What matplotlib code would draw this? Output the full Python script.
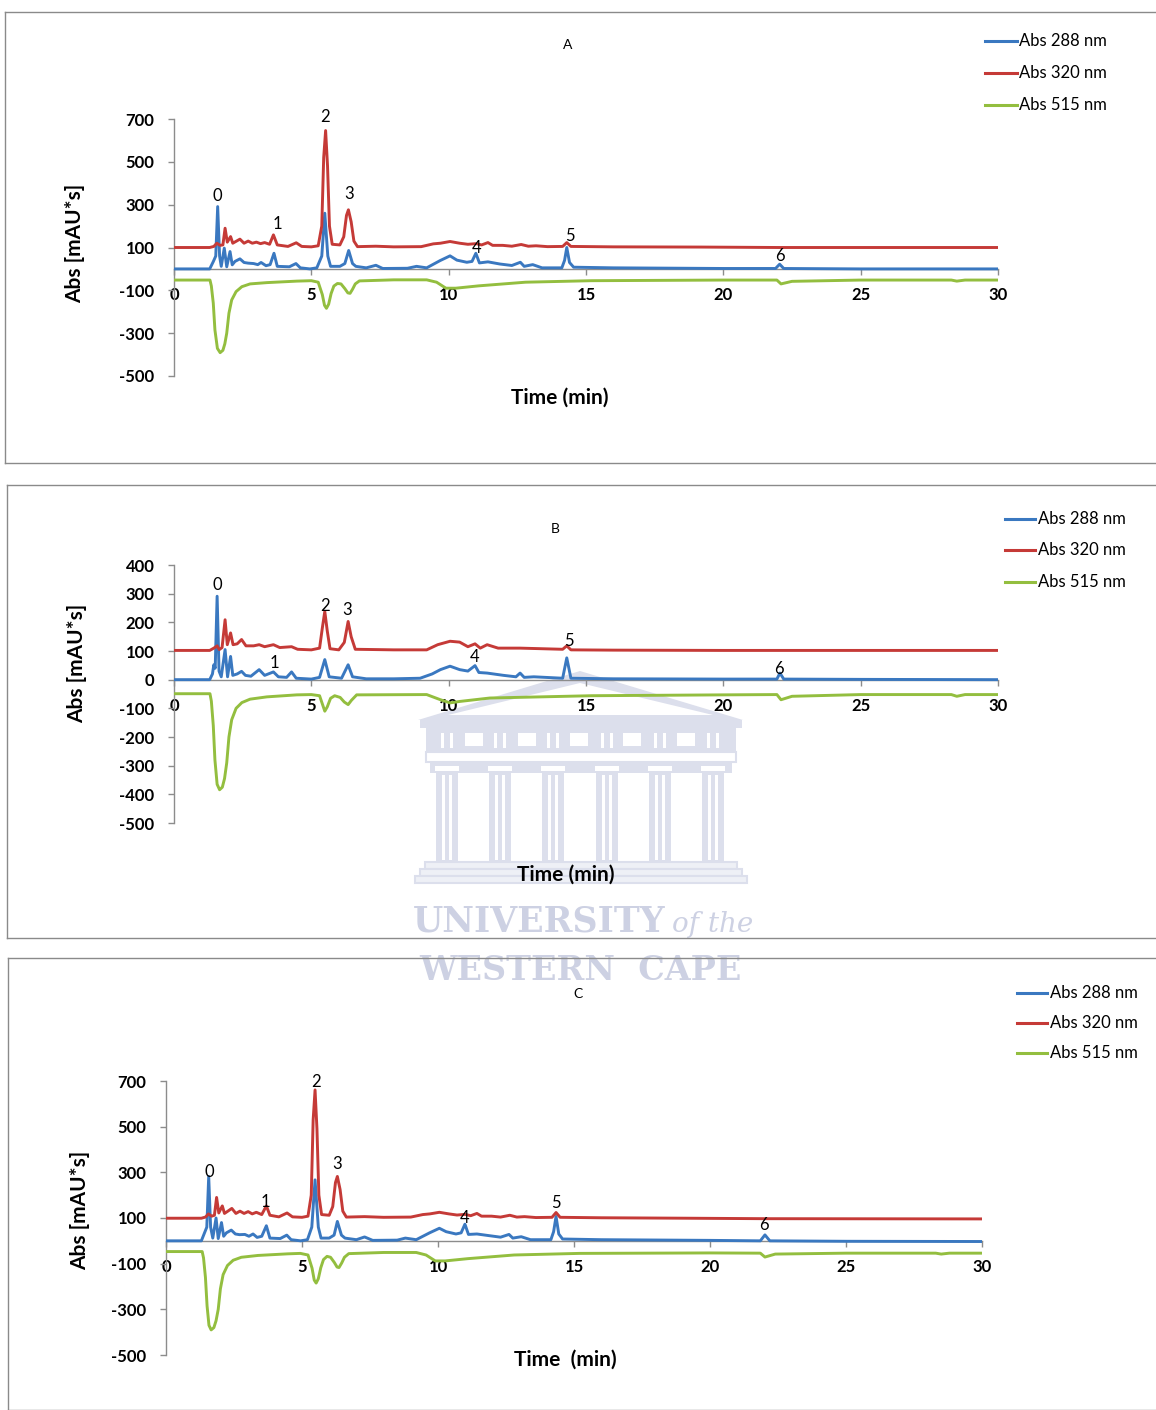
import matplotlib
matplotlib.use("Agg")
import matplotlib.pyplot as plt
from matplotlib.lines import Line2D
from matplotlib.patches import Rectangle, Polygon

plt.rcParams['font.family'] = ['Lato', 'DejaVu Sans']

W, H = 1156, 1410

# ---------------- DATA ----------------
series_labels = ["Abs 288 nm", "Abs 320 nm", "Abs 515 nm"]
peak_names = ["0", "1", "2", "3", "4", "5", "6"]
x_ticks = [0, 5, 10, 15, 20, 25, 30]

# Panel A
A_t_288 = [0, 1.30, 1.43, 1.52, 1.59, 1.66, 1.72, 1.83, 1.92, 2.04, 2.12, 2.22, 2.40, 2.55, 2.70, 2.90, 3.05, 3.17, 3.35, 3.50, 3.64, 3.76, 4.20, 4.44, 4.60, 4.95, 5.20, 5.38, 5.49, 5.60, 5.70, 6.04, 6.22, 6.36, 6.50, 6.62, 7.00, 7.35, 7.60, 8.50, 8.83, 9.20, 9.69, 10.05, 10.30, 10.66, 10.85, 10.99, 11.12, 11.43, 11.86, 12.30, 12.61, 12.75, 13.06, 13.40, 14.12, 14.22, 14.30, 14.40, 14.55, 16.0, 20.0, 21.9, 22.05, 22.2, 25, 30]
A_y_288 = [0, 0, 34, 60, 291, 60, 12, 97, 10, 81, 19, 35, 47, 30, 27, 25, 20, 30, 15, 20, 73, 12, 10, 25, 5, 0, 5, 60, 260, 60, 12, 12, 25, 86, 25, 12, 5, 17, 2, 3, 12, 5, 39, 61, 41, 31, 35, 73, 28, 33, 23, 16, 31, 12, 20, 5, 5, 40, 100, 30, 8, 5, 2, 2, 22, 2, 0, 0]
A_t_320 = [0, 1.30, 1.45, 1.56, 1.68, 1.78, 1.86, 1.94, 2.06, 2.14, 2.25, 2.40, 2.55, 2.70, 2.85, 3.00, 3.15, 3.30, 3.48, 3.62, 3.76, 4.15, 4.45, 4.65, 5.00, 5.25, 5.38, 5.45, 5.52, 5.59, 5.66, 5.76, 6.04, 6.18, 6.28, 6.35, 6.45, 6.55, 6.68, 7.35, 8.0, 9.0, 9.44, 9.7, 10.05, 10.4, 10.7, 11.0, 11.2, 11.43, 11.6, 11.97, 12.3, 12.64, 12.9, 13.18, 13.6, 14.15, 14.30, 14.45, 16.0, 19.2, 22.0, 30]
A_y_320 = [100, 100, 105, 120, 110, 112, 190, 125, 151, 120, 128, 139, 120, 130, 120, 125, 118, 123, 115, 159, 112, 105, 122, 105, 103, 108, 200, 520, 646, 480, 200, 115, 112, 150, 250, 276, 220, 130, 104, 106, 103, 104, 117, 120, 128, 120, 115, 118, 112, 123, 110, 110, 106, 114, 106, 108, 104, 105, 123, 105, 103, 102, 100, 100]
A_t_515 = [0, 1.31, 1.36, 1.43, 1.49, 1.58, 1.68, 1.78, 1.85, 1.92, 2.00, 2.10, 2.26, 2.47, 2.77, 3.38, 4.47, 5.00, 5.25, 5.40, 5.48, 5.55, 5.63, 5.72, 5.82, 5.95, 6.08, 6.22, 6.33, 6.41, 6.50, 6.60, 6.75, 8.0, 9.2, 9.56, 9.9, 10.26, 11.1, 12.8, 15.2, 20, 21.95, 22.1, 22.5, 25, 28.3, 28.5, 28.8, 30]
A_y_515 = [-52, -52, -80, -160, -285, -371, -391, -380, -350, -300, -207, -145, -106, -83, -70, -64, -57, -55, -62, -120, -170, -184, -165, -115, -80, -68, -70, -92, -112, -114, -95, -70, -56, -51, -51, -62, -90, -90, -79, -62, -55, -52, -52, -70, -58, -52, -52, -57, -52, -52]

# Panel B
B_t_288 = [0, 1.30, 1.40, 1.45, 1.50, 1.57, 1.64, 1.72, 1.86, 1.95, 2.06, 2.14, 2.30, 2.46, 2.60, 2.80, 3.10, 3.30, 3.62, 3.80, 4.10, 4.28, 4.45, 5.0, 5.30, 5.49, 5.65, 6.10, 6.34, 6.50, 7.0, 8.0, 8.96, 9.4, 9.7, 10.05, 10.4, 10.7, 10.96, 11.1, 11.4, 12.0, 12.45, 12.6, 12.75, 13.1, 14.15, 14.30, 14.45, 16, 20, 21.95, 22.06, 22.2, 25, 30]
B_y_288 = [0, 0, 20, 52, 40, 291, 30, 10, 105, 10, 81, 15, 20, 29, 15, 12, 35, 15, 27, 10, 8, 27, 5, 2, 8, 70, 10, 5, 52, 10, 3, 3, 5, 20, 35, 47, 35, 30, 49, 25, 23, 15, 10, 23, 8, 10, 5, 76, 5, 3, 2, 2, 23, 2, 1, 0]
B_t_320 = [0, 1.30, 1.45, 1.57, 1.65, 1.75, 1.86, 1.94, 2.06, 2.15, 2.30, 2.46, 2.62, 2.90, 3.10, 3.30, 3.62, 3.85, 4.28, 4.50, 5.0, 5.30, 5.40, 5.49, 5.58, 5.68, 6.0, 6.20, 6.34, 6.45, 6.60, 8.0, 9.2, 9.6, 10.05, 10.4, 10.7, 10.96, 11.15, 11.4, 11.8, 12.6, 14.15, 14.30, 14.45, 16, 20, 30]
B_y_320 = [102, 102, 110, 118, 105, 112, 209, 122, 163, 122, 125, 140, 118, 118, 122, 115, 122, 112, 115, 106, 104, 110, 180, 238, 170, 108, 104, 130, 203, 150, 106, 104, 104, 122, 134, 131, 115, 125, 110, 122, 110, 110, 106, 118, 104, 103, 102, 102]
B_t_515 = [0, 1.31, 1.36, 1.43, 1.49, 1.57, 1.66, 1.76, 1.84, 1.92, 2.00, 2.10, 2.26, 2.47, 2.77, 3.38, 4.47, 5.00, 5.30, 5.42, 5.49, 5.58, 5.70, 5.85, 6.05, 6.20, 6.34, 6.46, 6.65, 9.2, 9.7, 10.05, 10.4, 11.5, 15.2, 20, 21.95, 22.1, 22.5, 25, 28.3, 28.5, 28.8, 30]
B_y_515 = [-49, -49, -75, -160, -280, -365, -384, -375, -345, -290, -200, -140, -100, -80, -68, -60, -53, -52, -56, -90, -110, -95, -65, -56, -62, -78, -87, -72, -53, -52, -70, -81, -76, -64, -56, -53, -52, -70, -58, -52, -52, -58, -52, -52]

# Panel C
C_t_288 = [0, 1.30, 1.40, 1.50, 1.57, 1.64, 1.72, 1.84, 1.92, 2.04, 2.12, 2.22, 2.40, 2.55, 2.70, 2.90, 3.05, 3.20, 3.35, 3.52, 3.69, 3.82, 4.20, 4.44, 4.60, 4.95, 5.20, 5.36, 5.48, 5.60, 5.70, 6.0, 6.18, 6.30, 6.45, 6.58, 7.00, 7.30, 7.60, 8.50, 8.80, 9.20, 9.69, 10.05, 10.30, 10.66, 10.85, 10.99, 11.12, 11.43, 11.86, 12.30, 12.61, 12.75, 13.06, 13.40, 14.15, 14.25, 14.34, 14.44, 14.58, 16.0, 20.0, 21.85, 22.02, 22.2, 25, 30]
C_y_288 = [0, 0, 30, 60, 282, 60, 12, 100, 10, 80, 20, 35, 47, 30, 27, 28, 20, 30, 15, 20, 66, 12, 10, 25, 5, 0, 5, 60, 267, 60, 12, 12, 25, 85, 25, 12, 5, 17, 2, 3, 12, 5, 35, 55, 40, 30, 35, 73, 28, 30, 23, 16, 28, 12, 18, 5, 5, 40, 107, 30, 8, 5, 2, 0, 26, 0, -2, -3]
C_t_320 = [0, 1.30, 1.45, 1.56, 1.68, 1.78, 1.86, 1.94, 2.07, 2.15, 2.25, 2.42, 2.57, 2.72, 2.87, 3.02, 3.17, 3.32, 3.52, 3.69, 3.82, 4.15, 4.45, 4.65, 5.00, 5.22, 5.34, 5.41, 5.48, 5.55, 5.62, 5.72, 6.00, 6.13, 6.23, 6.30, 6.40, 6.50, 6.63, 7.30, 8.0, 9.0, 9.44, 9.7, 10.05, 10.4, 10.7, 11.0, 11.2, 11.43, 11.6, 11.97, 12.3, 12.64, 12.9, 13.18, 13.6, 14.19, 14.34, 14.49, 16.0, 19.2, 22.0, 30]
C_y_320 = [99, 99, 104, 118, 108, 112, 190, 122, 153, 120, 128, 142, 120, 130, 120, 128, 118, 125, 115, 153, 112, 105, 122, 105, 103, 108, 200, 530, 661, 490, 200, 115, 112, 150, 255, 282, 225, 130, 104, 106, 103, 104, 115, 118, 125, 118, 113, 116, 110, 120, 108, 108, 104, 112, 104, 106, 102, 103, 124, 103, 101, 99, 97, 96]
C_t_515 = [0, 1.33, 1.38, 1.45, 1.51, 1.58, 1.66, 1.76, 1.84, 1.92, 2.00, 2.10, 2.26, 2.47, 2.77, 3.38, 4.47, 4.94, 5.22, 5.37, 5.45, 5.52, 5.60, 5.69, 5.79, 5.92, 6.05, 6.19, 6.29, 6.36, 6.46, 6.56, 6.72, 8.0, 9.2, 9.56, 9.9, 10.26, 11.1, 12.8, 15.2, 20, 21.85, 22.02, 22.4, 25, 28.3, 28.5, 28.8, 30]
C_y_515 = [-47, -47, -75, -160, -285, -370, -390, -380, -350, -300, -210, -148, -108, -85, -72, -64, -57, -55, -62, -120, -172, -185, -166, -118, -82, -68, -72, -95, -115, -117, -97, -72, -56, -51, -51, -62, -88, -88, -78, -62, -55, -53, -54, -71, -58, -54, -54, -58, -54, -54]

# peak label positions (time, signal)
A_lab_t = [1.57, 3.75, 5.50, 6.37, 11.03, 14.42, 22.06]
A_lab_y = [341, 210, 710, 350, 98, 154, 61]
B_lab_t = [1.57, 3.64, 5.50, 6.30, 10.96, 14.38, 22.02]
B_lab_y = [331, 59, 258, 244, 80, 136, 38]
C_lab_t = [1.58, 3.64, 5.51, 6.29, 10.99, 14.34, 21.99]
C_lab_y = [302, 171, 696, 337, 101, 166, 70]

A_yticks = [-500, -300, -100, 100, 300, 500, 700]
B_yticks = [-500, -400, -300, -200, -100, 0, 100, 200, 300, 400]
C_yticks = [-500, -300, -100, 100, 300, 500, 700]

# ---------------- STYLE ----------------
COLORS = ['#3A78C0', '#C53A37', '#93BE3F']
AXIS_COL = '#8C8C8C'

fig = plt.figure(figsize=(W / 100, H / 100), dpi=100)


def fx(x):
    return x / W


def fy(y):
    return 1 - y / H


# ---------------- watermark (drawn beneath the charts) ----------------
WM = '#DCDFEC'
WMT = '#CDD1E3'
Z = -5


def wrect(x0, y0, x1, y1, fc=WM, ec='none', lw=0):
    fig.add_artist(Rectangle((fx(x0), fy(y1)), (x1 - x0) / W, (y1 - y0) / H,
                             facecolor=fc, edgecolor=ec, lw=lw, zorder=Z))


fig.add_artist(Polygon([[fx(418), fy(720)], [fx(580), fy(671)], [fx(743), fy(720)]], closed=True,
                       facecolor=WM, edgecolor='none', zorder=Z))
fig.add_artist(Polygon([[fx(448), fy(715)], [fx(580), fy(683)], [fx(713), fy(715)]], closed=True,
                       facecolor='white', edgecolor='none', zorder=Z))
wrect(420, 720, 742, 728)
wrect(426, 728, 736, 752)
for wx in [465, 518, 570, 623, 677]:
    wrect(wx, 733, wx + 18, 746, fc='white')
for cx in [447, 500, 553, 607, 660, 713]:
    wrect(cx - 6, 733, cx - 3, 748, fc='white')
    wrect(cx + 3, 733, cx + 6, 748, fc='white')
wrect(426, 752, 736, 762, fc='white', ec=WM, lw=1.5)
wrect(430, 762, 732, 773)
for cx in [447, 500, 553, 607, 660, 713]:
    wrect(cx - 12, 766, cx + 12, 771, fc='white')
    wrect(cx - 11, 773, cx + 11, 862)
    wrect(cx - 5, 775, cx - 2, 860, fc='white')
    wrect(cx + 2, 775, cx + 5, 860, fc='white')
wrect(425, 862, 737, 869, fc='#EEF0F6', ec=WM, lw=1.5)
wrect(420, 869, 742, 876, fc='#EEF0F6', ec=WM, lw=1.5)
wrect(415, 876, 747, 883, fc='#EEF0F6', ec=WM, lw=1.5)
fig.text(fx(666), fy(922), 'UNIVERSITY', ha='right', va='center', fontsize=25, fontweight='bold',
         family='DejaVu Serif', color=WMT, zorder=Z)
fig.text(fx(672), fy(925), 'of the', ha='left', va='center', fontsize=20, style='italic',
         family='DejaVu Serif', color=WMT, zorder=Z)
fig.text(fx(580), fy(970), 'WESTERN  CAPE', ha='center', va='center', fontsize=24, fontweight='bold',
         family='DejaVu Serif', color=WMT, zorder=Z)

# panel frames
frames = [(5, 12, 463), (7, 485, 938), (8, 958, 1410)]
for (xl, yt, yb) in frames:
    fig.add_artist(Line2D([fx(xl), 1.0], [fy(yt), fy(yt)], color='#8A8A8A', lw=1.0))
    fig.add_artist(Line2D([fx(xl), 1.0], [fy(yb), fy(yb)], color='#8A8A8A', lw=1.0))
    fig.add_artist(Line2D([fx(xl), fx(xl)], [fy(yt), fy(yb)], color='#8A8A8A', lw=1.0))

panels = [
    dict(title='A', title_xy=(568, 45), ax_px=(174, 998, 119, 376), ylim=(-500, 700), yticks=A_yticks,
         data=[(A_t_288, A_y_288), (A_t_320, A_y_320), (A_t_515, A_y_515)],
         lab=(A_lab_t, A_lab_y), leg=(985, 1017, 1019, [41, 73, 105]),
         ylab=(75, 243), xlab=(560, 398, 'Time (min)')),
    dict(title='B', title_xy=(555, 529), ax_px=(174, 998, 565, 823), ylim=(-500, 400), yticks=B_yticks,
         data=[(B_t_288, B_y_288), (B_t_320, B_y_320), (B_t_515, B_y_515)],
         lab=(B_lab_t, B_lab_y), leg=(1005, 1035, 1038, [519, 550, 582]),
         ylab=(77, 663), xlab=(566, 875, 'Time (min)')),
    dict(title='C', title_xy=(578, 994), ax_px=(166, 982, 1081, 1355), ylim=(-500, 700), yticks=C_yticks,
         data=[(C_t_288, C_y_288), (C_t_320, C_y_320), (C_t_515, C_y_515)],
         lab=(C_lab_t, C_lab_y), leg=(1017, 1047, 1050, [993, 1023, 1053]),
         ylab=(80, 1210), xlab=(565, 1360, 'Time  (min)')),
]

for p in panels:
    x0, x1, ytop, ybot = p['ax_px']
    ax = fig.add_axes([fx(x0), fy(ybot), (x1 - x0) / W, (ybot - ytop) / H])
    ax.set_facecolor('none')
    ax.set_xlim(0, 30)
    ax.set_ylim(*p['ylim'])
    for (t, y), c in zip(p['data'], COLORS):
        ax.plot(t, y, color=c, lw=2.1, solid_joinstyle='round', solid_capstyle='round', zorder=3)
    for name, t, y in zip(peak_names, p['lab'][0], p['lab'][1]):
        ax.text(t, y, name, ha='center', va='center', fontsize=12, color='black', zorder=5)
    for s in ['top', 'right']:
        ax.spines[s].set_visible(False)
    ax.spines['left'].set_color(AXIS_COL)
    ax.spines['bottom'].set_color(AXIS_COL)
    ax.spines['bottom'].set_position(('data', 0))
    ax.spines['left'].set_linewidth(1.0)
    ax.spines['bottom'].set_linewidth(1.0)
    ax.set_xticks(x_ticks)
    ax.set_xticklabels([str(v) for v in x_ticks])
    ax.set_yticks(p['yticks'])
    ax.set_yticklabels([str(v) for v in p['yticks']])
    ax.tick_params(axis='x', direction='out', length=4, width=1, color=AXIS_COL, pad=9,
                   labelsize=12)
    ax.tick_params(axis='y', direction='out', length=4, width=1, color=AXIS_COL, pad=10,
                   labelsize=12)
    for lab in ax.get_xticklabels() + ax.get_yticklabels():
        lab.set_fontweight('bold')
    # title
    fig.text(fx(p['title_xy'][0]), fy(p['title_xy'][1]), p['title'], ha='center', va='center', fontsize=10)
    # axis labels
    fig.text(fx(p['ylab'][0]), fy(p['ylab'][1]), 'Abs [mAU*s]', rotation=90, ha='center', va='center',
             fontsize=15, fontweight='bold')
    fig.text(fx(p['xlab'][0]), fy(p['xlab'][1]), p['xlab'][2], ha='center', va='center',
             fontsize=15, fontweight='bold')
    # legend
    lx0, lx1, ltx, lys = p['leg']
    for lbl, c, ly in zip(series_labels, COLORS, lys):
        fig.add_artist(Line2D([fx(lx0), fx(lx1)], [fy(ly), fy(ly)], color=c, lw=2.2))
        fig.text(fx(ltx), fy(ly), lbl, ha='left', va='center', fontsize=12)

fig.savefig('out.png', dpi=100)
